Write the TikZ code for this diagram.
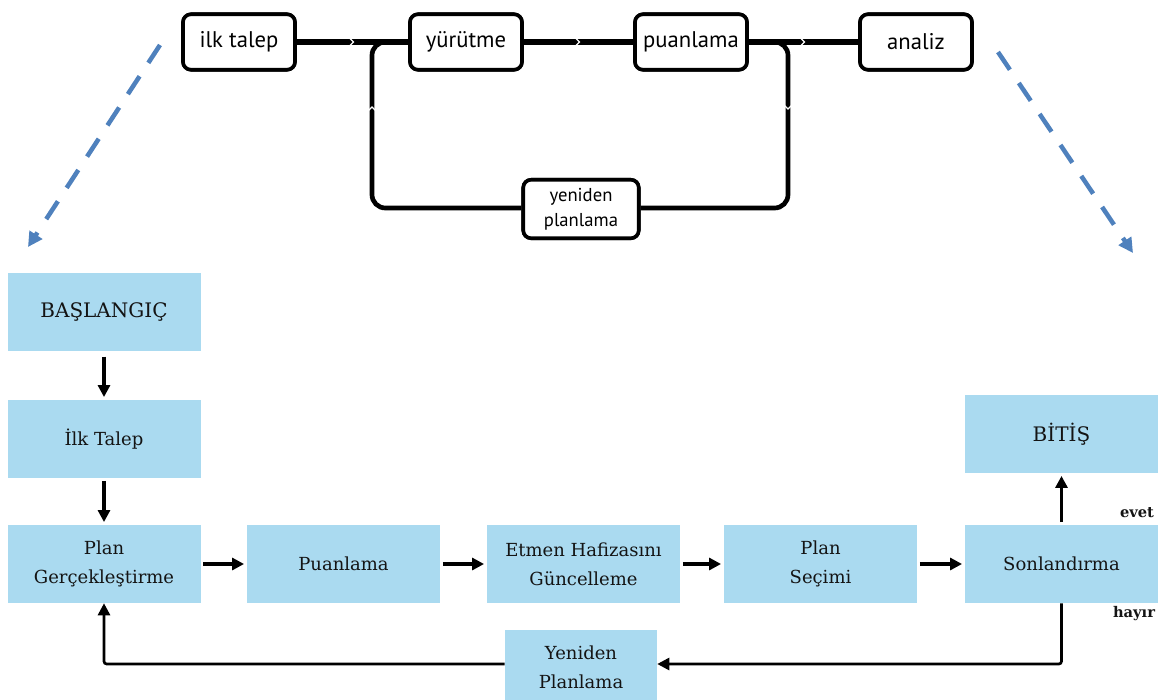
\documentclass[tikz,border=0pt]{standalone}
\usepackage{fontspec}
\setmainfont{DejaVu Serif}
\newfontfamily\topfont{PT Sans}
\usetikzlibrary{arrows.meta,calc}
\definecolor{boxblue}{RGB}{170,218,240}
\definecolor{dashblue}{RGB}{79,129,189}
\definecolor{inkgray}{RGB}{20,20,20}

\begin{document}
\begin{tikzpicture}[x=0.75pt,y=-0.75pt,
  topbox/.style={draw=black, line width=2.7pt, rounded corners=6pt, fill=white,
    minimum width=84pt, minimum height=41.6pt, inner sep=0pt,
    font=\topfont\fontsize{17}{19}\selectfont},
  smallbox/.style={topbox, minimum width=86.6pt, minimum height=43.9pt,
    align=center, font=\topfont\fontsize{14}{18.5}\selectfont},
  mainline/.style={line width=4.2pt},
  loopline/.style={line width=3.5pt, rounded corners=10pt},
  chev/.pic={\draw[white, line width=0.9pt] (-1.8pt,-2.6pt) -- (0.8pt,0pt) -- (-1.8pt,2.6pt);},
  stepbox/.style={fill=boxblue, draw=none, minimum width=144.75pt, minimum height=58.5pt,
    inner sep=0pt, align=center, text=inkgray, font=\fontsize{13.5}{21.5}\selectfont},
  capsfont/.style={font=\fontsize{15}{21.5}\selectfont},
  flow/.style={line width=2.6pt, -{Triangle[length=9pt,width=9pt]}},
  back/.style={line width=2pt, -{Triangle[length=9pt,width=9pt]}},
  guide/.style={dashblue, line width=3.4pt, dash pattern=on 16pt off 12pt,
    -{Triangle[length=11pt,width=11pt]}},
  tag/.style={text=inkgray, font=\bfseries\fontsize{11}{13}\selectfont, inner sep=0pt}
]
\useasboundingbox (0,0) rectangle (1165,700);

% ---- top row: process overview ----
\node[topbox] (ilk) at (239,42) {ilk talep};
\node[topbox] (yur) at (466,42) {yürütme};
\node[topbox] (pua) at (691,42) {puanlama};
\node[topbox] (ana) at (916,42) {analiz};
\node[smallbox] (yen) at (581,209) {yeniden\\planlama};

\coordinate (lc) at (372,208);
\coordinate (rc) at (788,208);

\draw[loopline] (pua.east) -| (rc) -- (yen.east |- rc);
\draw[loopline] (yen.west |- lc) -- (lc) |- (yur.west);
\draw[mainline] (ilk.east) -- (yur.west);
\draw[mainline] (yur.east) -- (pua.west);
\draw[mainline] (pua.east) -- (ana.west);

\pic at ($(ilk.east)!0.5!(yur.west)$) {chev};
\pic at ($(yur.east)!0.5!(pua.west)$) {chev};
\pic at ($(pua.east)!0.5!(ana.west)$) {chev};
\pic[rotate=90] at ($(lc)+(0,-100)$) {chev};
\pic[rotate=-90] at ($(rc)+(0,-100)$) {chev};

% redraw boxes above the lines
\node[topbox] at (ilk) {ilk talep};
\node[topbox] at (yur) {yürütme};
\node[topbox] at (pua) {puanlama};
\node[topbox] at (ana) {analiz};
\node[smallbox] at (yen) {yeniden\\planlama};

% ---- guide arrows ----
\coordinate (gl1) at (160,45);
\coordinate (gl2) at (28,247);
\coordinate (gr1) at (998,52);
\coordinate (gr2) at (1133,253);
\draw[guide] (gl1) -- (gl2);
\draw[guide] (gr1) -- (gr2);

% ---- bottom flow chart ----
\node[stepbox, capsfont] (bas) at (104,312) {BAŞLANGIÇ};
\node[stepbox] (tal) at (104,439) {İlk Talep};
\node[stepbox] (ger) at (104,564) {Plan\\Gerçekleştirme};
\node[stepbox] (pn)  at (343.5,564) {Puanlama};
\node[stepbox] (etm) at (583.5,564) {Etmen Hafizasını\\Güncelleme};
\node[stepbox] (sec) at (820.5,564) {Plan\\Seçimi};
\node[stepbox] (son) at (1061.5,564) {Sonlandırma};
\node[stepbox, capsfont] (bit) at (1061.5,434) {BİTİŞ};
\node[stepbox, minimum width=114pt, minimum height=55.5pt] (ypl) at (581,667) {Yeniden\\Planlama};

\draw[flow, shorten <=4pt, shorten >=2pt] (bas) -- (tal);
\draw[flow, shorten <=2pt, shorten >=2pt] (tal) -- (ger);
\draw[flow, shorten <=2pt, shorten >=2pt] (ger) -- (pn);
\draw[flow, shorten <=2pt, shorten >=2pt] (pn) -- (etm);
\draw[flow, shorten <=2pt, shorten >=2pt] (etm) -- (sec);
\draw[flow, shorten <=2pt, shorten >=2pt] (sec) -- (son);
\draw[flow, shorten <=2pt, shorten >=2pt] (son) -- (bit);

\coordinate (sb) at (1061.5,664);
\coordinate (gb) at (104,664);
\draw[back, rounded corners=2pt] (son.south) -- (sb) -- (ypl.east |- sb);
\draw[back, rounded corners=2pt] (ypl.west |- gb) -- (gb) -- (ger.south);

\node[tag] (evet) at (1137,513) {evet};
\node[tag] (hayir) at (1134,614) {hayır};
\end{tikzpicture}
\end{document}
